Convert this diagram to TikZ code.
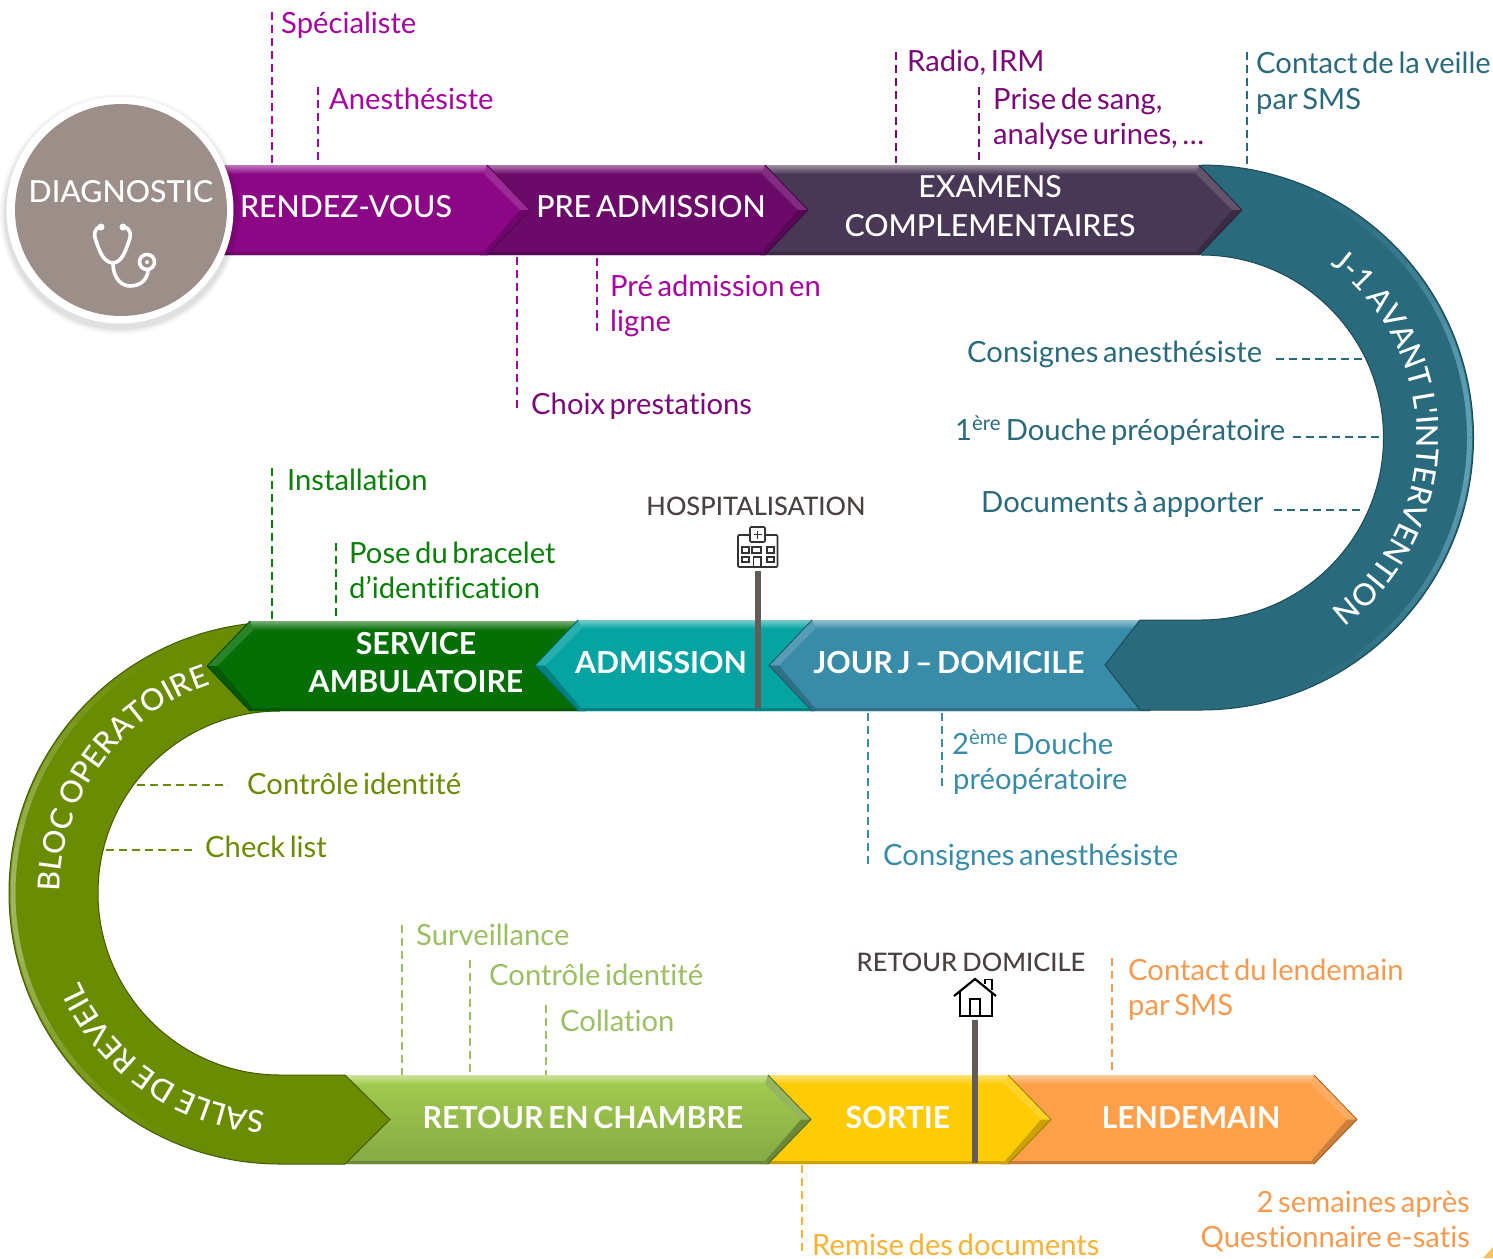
\documentclass[tikz,border=0pt]{standalone}
\usepackage{fontspec}
\setmainfont[WordSpace=0.62,Ligatures=CommonOff]{Lato}
\newfontfamily\medf[WordSpace=0.62,Ligatures=CommonOff]{Lato Medium}
\newfontfamily\curvf[WordSpace=0.8,Ligatures=CommonOff]{Lato Medium}
\newfontfamily\semif[WordSpace=0.62,Ligatures=CommonOff]{Lato Bold}
\usetikzlibrary{decorations.text,calc}
\definecolor{cRdv}{HTML}{8B0786}
\definecolor{cPre}{HTML}{6C0A69}
\definecolor{cExa}{HTML}{483755}
\definecolor{cTeal}{HTML}{2A6A7D}
\definecolor{cJour}{HTML}{398CA8}
\definecolor{cAdm}{HTML}{05A3A2}
\definecolor{cAmb}{HTML}{056F06}
\definecolor{cOlive}{HTML}{6A8C02}
\definecolor{cRet}{HTML}{86A945}
\definecolor{cRetTop}{HTML}{A4CC50}
\definecolor{cSor}{HTML}{FECB07}
\definecolor{cLen}{HTML}{FE9F4A}
\definecolor{cDiag}{HTML}{9C8F89}
\definecolor{cPost}{HTML}{635B58}
\definecolor{tMag}{HTML}{A6069F}
\definecolor{tPur}{HTML}{7B0A78}
\definecolor{tGreen}{HTML}{0A7F0A}
\definecolor{tLime}{HTML}{9CBF63}
\definecolor{tOra}{HTML}{F79A50}
\definecolor{tYel}{HTML}{F9B233}
\definecolor{tHead}{HTML}{4A4240}
\newcommand{\lblfont}{\fontsize{29.2}{35}\selectfont}
\newcommand{\capfont}{\medf\fontsize{30.3}{35}\selectfont}
\newcommand{\curvefont}{\curvf\fontsize{30.3}{35}\selectfont}
\newcommand{\boldcap}{\semif\fontsize{30.3}{35}\selectfont}
\newcommand{\headfont}{\medf\fontsize{25.5}{30}\selectfont}
\tikzset{
  lbl/.style={anchor=base west,inner sep=0pt,font=\lblfont},
  lblr/.style={anchor=base east,inner sep=0pt,font=\lblfont},
  bandtxt/.style={anchor=base,inner sep=0pt,text=white,font=\capfont},
  bandbold/.style={anchor=base,inner sep=0pt,text=white,font=\boldcap},
  headtxt/.style={anchor=base,inner sep=0pt,text=tHead,font=\headfont},
  dashln/.style={line width=1.6pt,dash pattern=on 8pt off 5pt},
  postln/.style={line width=5.5pt,draw=cPost},
  iconln/.style={line width=1.6pt,draw=black!80,line join=round}
}
% #1 corner x, #2 far x, #3 sign (tip direction), #4 top y, #5 bottom y, #6 colour, #7 body top colour
\newcommand{\chevband}[7]{%
  \pgfmathsetmacro{\ym}{(#4+#5)/2}%
  \shade[top color=#7,bottom color=#6] (#2,#4) -- (#1,#4) -- ({#1+#3*43},\ym) -- (#1,#5) -- (#2,#5) -- cycle;
  \shade[top color=#7!55!white,bottom color=#7] (#2,#4) -- (#1,#4) -- ({#1-#3*3},{#4+9}) -- (#2,{#4+9}) -- cycle;
  \fill[#6!80!black] (#2,#5) -- (#1,#5) -- ({#1-#3*3},{#5-3}) -- (#2,{#5-3}) -- cycle;
  \fill[#6!86!white] (#1,#4) -- ({#1+#3*43},\ym) -- ({#1+#3*33},\ym) -- ({#1-#3*3},{#4+9}) -- cycle;
  \fill[#6!80!black] (#1,#5) -- ({#1+#3*43},\ym) -- ({#1+#3*33},\ym) -- ({#1-#3*3},{#5-3}) -- cycle;
  \draw[#6!60!black,line width=.8pt,line join=round] (#1,#4) -- ({#1+#3*43},\ym) -- (#1,#5);
}
% #1 name, #2 colour, #3 x1, #4 y1, #5 x2, #6 y2
\newcommand{\dashconn}[6]{%
  \coordinate (#1a) at (#3,#4); \coordinate (#1b) at (#5,#6);
  \draw[dashln,draw=#2] (#1a) -- (#1b);
}
\begin{document}
\begin{tikzpicture}[x=1pt,y=-1pt]
\useasboundingbox (0,0) rectangle (1493,1258);
\fill[white] (0,0) rectangle (1493,1258);

% corner triangle
\fill[tYel!80] (1493,1247) -- (1493,1258) -- (1483,1258) -- cycle;

% dashed leaders
\dashconn{d1}{tMag}{272}{12}{272}{163}
\dashconn{d2}{tMag}{318}{87}{318}{163}
\dashconn{d3}{tMag}{517}{257}{517}{408}
\dashconn{d4}{tMag}{597}{258}{597}{332}
\dashconn{d5}{tPur}{896}{52}{896}{163}
\dashconn{d6}{tPur}{979}{87}{979}{163}
\dashconn{d7}{cTeal}{1247}{52}{1247}{165}
\dashconn{d8}{cTeal}{1276}{359}{1365}{359}
\dashconn{d9}{cTeal}{1293}{437}{1382}{437}
\dashconn{d10}{cTeal}{1274}{510}{1363}{510}
\dashconn{d11}{tGreen}{272}{468}{272}{620}
\dashconn{d12}{tGreen}{336}{543}{336}{620}
\dashconn{d13}{cOlive}{137}{785}{228}{785}
\dashconn{d14}{cOlive}{106}{850}{195}{850}
\dashconn{d15}{cJour}{868}{713}{868}{865}
\dashconn{d16}{cJour}{942}{713}{942}{790}
\dashconn{d17}{tLime}{402}{925}{402}{1075}
\dashconn{d18}{tLime}{470}{960}{470}{1075}
\dashconn{d19}{tLime}{546}{1005}{546}{1080}
\dashconn{d20}{tOra}{1112}{958}{1112}{1072}
\dashconn{d21}{tYel}{802}{1165}{802}{1254}

% ---- bottom chain: later segments lie under earlier tips
\chevband{1314}{1000}{1}{1075}{1164}{cLen}{cLen}
\chevband{1008}{760}{1}{1075}{1164}{cSor}{cSor}
\chevband{768}{340}{1}{1075}{1164}{cRet}{cRetTop}

% ---- left U
\fill[cOlive] (280,622) arc[start angle=90,end angle=270,radius=271pt] -- (345,1164) -- (390,1119.5) -- (345,1075) -- (280,1075)
  arc[start angle=270,end angle=90,radius=182pt] -- cycle;
\foreach \a in {105,110,...,250}{
  \pgfmathsetmacro{\o}{.8*pow(cos(\a-180),4)}
  \draw[line width=5pt,draw=cOlive!55!white,opacity=\o] ($(280,893)+(\a:267pt)$) arc[start angle=\a,end angle=\a+5,radius=267pt];
}
\draw[cOlive!65!black,line width=1pt] (280,622) arc[start angle=90,end angle=270,radius=271pt] -- (345,1164) -- (390,1119.5) -- (345,1075) -- (280,1075)
  arc[start angle=270,end angle=90,radius=182pt];

% ---- middle chain
\chevband{250}{585}{-1}{621}{711}{cAmb}{cAmb}
\chevband{578}{815}{-1}{620}{711}{cAdm}{cAdm}
\chevband{812}{1150}{-1}{620}{711}{cJour}{cJour}

% ---- right U
\fill[cTeal] (1199,165) -- (1201,165) arc[start angle=90,end angle=-90,radius=272.5pt] -- (1140,710) -- (1105,665) -- (1140,620) -- (1201,620)
  arc[start angle=-90,end angle=90,radius=182.5pt] -- (1199,255) -- cycle;
\foreach \a in {-70,-65,...,65}{
  \pgfmathsetmacro{\o}{.85*pow(cos(\a+2.5),4)}
  \draw[line width=5pt,draw=cJour!75!white,opacity=\o] ($(1201,437.5)+(\a:268.5pt)$) arc[start angle=\a,end angle=\a+5,radius=268.5pt];
}
\draw[cTeal!70!black,line width=1pt] (1201,165) arc[start angle=90,end angle=-90,radius=272.5pt] -- (1140,710) -- (1105,665) -- (1140,620) -- (1201,620)
  arc[start angle=-90,end angle=90,radius=182.5pt];

% ---- top chain
\chevband{1199}{760}{1}{165}{255}{cExa}{cExa}
\chevband{765}{480}{1}{165}{255}{cPre}{cPre}
\chevband{487}{200}{1}{165}{255}{cRdv}{cRdv}

% curved labels
\path[decorate,decoration={text along path,text align=center,text format delimiters={|}{|},
  text={|\curvefont\color{white}|J-1 AVANT L'INTERVENTION}}]
  ($(1201,437.5)+(60:216pt)$) arc[start angle=60,end angle=-60,radius=216pt];
\path[decorate,decoration={text along path,text align=center,text format delimiters={|}{|},
  text={|\curvefont\color{white}|BLOC OPERATOIRE}}]
  ($(280,893)+(186:220pt)$) arc[start angle=186,end angle=102,radius=220pt];
\path[decorate,decoration={text along path,text align=center,text format delimiters={|}{|},
  text={|\curvefont\color{white}|SALLE DE REVEIL}}]
  ($(280,893)+(275:219pt)$) arc[start angle=275,end angle=195,radius=219pt];

% diagnostic disc
\foreach \r/\o in {120/.03,118/.04,116/.05}{\fill[black,opacity=\o] (120,214) circle[radius=\r pt];}
\fill[white] (120,210) circle[radius=113.5pt];
\fill[cDiag] (121,210) circle[radius=106pt];

% stethoscope
\begin{scope}[white,line width=3.6pt,line cap=round,line join=round]
  \draw (101,227) .. controls (93,228) and (94,236) .. (96,241) .. controls (100,252) and (103,262) .. (113,263);
  \draw (123,227) .. controls (132,228) and (131,236) .. (129,241) .. controls (125,252) and (122,262) .. (113,263);
  \draw (113,263) .. controls (113,280) and (123,286) .. (130,286) .. controls (140,286) and (147,280) .. (148,271);
  \draw (147,262) circle[radius=7.5pt];
  \fill (147,262) circle[radius=2pt];
\end{scope}
\fill[white] (101,227) circle[radius=3.5pt];
\fill[white] (123,227) circle[radius=3.5pt];

% band texts
\node[bandtxt] (tDiag) at (121,202) {DIAGNOSTIC};
\node[bandtxt] (tRdv) at (346,217) {RENDEZ-VOUS};
\node[bandtxt] (tPre) at (651,217) {PRE ADMISSION};
\node[bandtxt] (tExa) at (990,197) {EXAMENS};
\node[bandtxt] (tCom) at (990,236) {COMPLEMENTAIRES};
\node[bandbold] (tSer) at (416,654) {SERVICE};
\node[bandbold] (tAmb) at (416,692) {AMBULATOIRE};
\node[bandbold] (tAdm) at (661,673) {ADMISSION};
\node[bandbold] (tJou) at (949,673) {JOUR J – DOMICILE};
\node[bandbold] (tRet) at (583,1128) {RETOUR EN CHAMBRE};
\node[bandbold] (tSor) at (898,1128) {SORTIE};
\node[bandbold] (tLen) at (1191,1128) {LENDEMAIN};

% hospitalisation post + icon
\node[headtxt] (tHos) at (756,515) {HOSPITALISATION};
\coordinate (p1a) at (758,571); \coordinate (p1b) at (758,708);
\draw[postln] (p1a) -- (p1b);
\draw[iconln,fill=white,rounded corners=1pt] (738,535) rectangle (777.5,567);
\draw[iconln,fill=white,rounded corners=1pt] (750,527) rectangle (765,542);
\draw[black!80,line width=1.2pt] (753.5,534.5) -- (761.5,534.5) (757.5,530.5) -- (757.5,538.5);
\foreach \xa/\xb/\ya/\yb in {742/749/547/553,752/761/547/553,767/774/547/553,742/749/557/562,767/774/557/562,753.5/761/557/567}
  {\draw[black!80,line width=1.3pt] (\xa,\ya) rectangle (\xb,\yb);}

% retour domicile post + icon
\node[headtxt] (tDom) at (971,971) {RETOUR DOMICILE};
\coordinate (p2a) at (975,1020); \coordinate (p2b) at (975,1163);
\draw[postln] (p2a) -- (p2b);
\draw[black,line width=2.2pt,line join=miter] (954,996) -- (975,979) -- (996,996);
\draw[black,line width=2.2pt] (960,992) -- (960,1016) -- (992,1016) -- (992,992);
\draw[black,line width=1.8pt] (970,1016) -- (970,999) -- (980,999) -- (980,1016);
\draw[black,line width=1.8pt] (985,984) -- (985,979.5) -- (992,979.5) -- (992,990);

% labels
\node[lbl,text=tMag] (l1) at (281,33) {Spécialiste};
\node[lbl,text=tMag] (l2) at (329,109) {Anesthésiste};
\node[lbl,text=tPur] (l3) at (907,71) {Radio, IRM};
\node[lbl,text=tPur] (l4) at (993,109) {Prise de sang,};
\node[lbl,text=tPur] (l5) at (993,144) {analyse urines, …};
\node[lbl,text=cTeal] (l6) at (1256,73) {Contact de la veille};
\node[lbl,text=cTeal] (l7) at (1256,109) {par SMS};
\node[lbl,text=tMag] (l8) at (610,296) {Pré admission en};
\node[lbl,text=tMag] (l9) at (610,331) {ligne};
\node[lbl,text=tPur] (l10) at (531,414) {Choix prestations};
\node[lbl,text=cTeal] (l11) at (967,362) {Consignes anesthésiste};
\node[lbl,text=cTeal] (l12) at (955,440) {1\textsuperscript{ère} Douche préopératoire};
\node[lbl,text=cTeal] (l13) at (981,512) {Documents à apporter};
\node[lbl,text=tGreen] (l14) at (287,490) {Installation};
\node[lbl,text=tGreen] (l15) at (349,563) {Pose du bracelet};
\node[lbl,text=tGreen] (l16) at (349,598) {d’identification};
\node[lbl,text=cOlive] (l17) at (247,794) {Contrôle identité};
\node[lbl,text=cOlive] (l18) at (205,857) {Check list};
\node[lbl,text=cJour] (l19) at (952,754) {2\textsuperscript{ème} Douche};
\node[lbl,text=cJour] (l20) at (953,789) {préopératoire};
\node[lbl,text=cJour] (l21) at (883,865) {Consignes anesthésiste};
\node[lbl,text=tLime] (l22) at (416,945) {Surveillance};
\node[lbl,text=tLime] (l23) at (489,985) {Contrôle identité};
\node[lbl,text=tLime] (l24) at (560,1031) {Collation};
\node[lbl,text=tOra] (l25) at (1128,980) {Contact du lendemain};
\node[lbl,text=tOra] (l26) at (1128,1015) {par SMS};
\node[lbl,text=tYel] (l27) at (812,1255) {Remise des documents};
\node[lblr,text=tOra] (l28) at (1470,1212) {2 semaines après};
\node[lblr,text=tOra] (l29) at (1470,1247) {Questionnaire e-satis};
\end{tikzpicture}
\end{document}
